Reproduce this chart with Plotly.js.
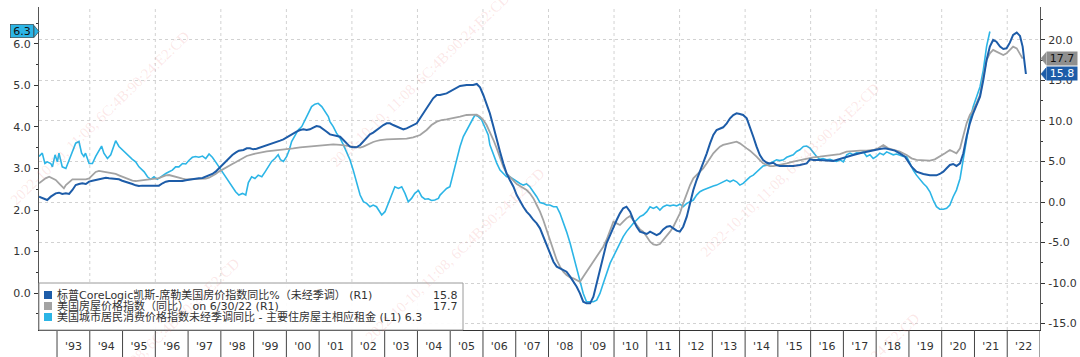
<!DOCTYPE html>
<html>
<head>
<meta charset="utf-8">
<script src="https://cdn.plot.ly/plotly-3.0.1.min.js"></script>
<style>html,body{margin:0;padding:0;background:#fff;}#chart{width:1080px;height:357px;}</style>
</head>
<body>
<div id="chart"></div>
<script>
// ---- Data ----
// S&P CoreLogic Case-Shiller YoY % (right axis)
const csX = [1992.45,1992.60,1992.70,1992.81,1992.96,1993.06,1993.16,1993.27,1993.37,1993.47,1993.57,1993.67,1993.77,1993.88,1993.98,1994.08,1994.18,1994.28,1994.38,1994.49,1994.59,1994.69,1994.79,1994.89,1994.99,1995.10,1995.20,1995.30,1995.40,1995.50,1995.60,1995.71,1995.81,1995.91,1996.01,1996.11,1996.22,1996.32,1996.42,1996.52,1996.62,1996.72,1996.83,1996.93,1997.03,1997.13,1997.23,1997.33,1997.44,1997.54,1997.64,1997.74,1997.84,1997.94,1998.05,1998.15,1998.25,1998.35,1998.45,1998.55,1998.69,1998.79,1998.89,1998.99,1999.09,1999.19,1999.30,1999.40,1999.50,1999.60,1999.70,1999.81,1999.91,2000.01,2000.11,2000.21,2000.31,2000.42,2000.52,2000.62,2000.72,2000.82,2000.92,2001.02,2001.13,2001.23,2001.33,2001.43,2001.53,2001.64,2001.74,2001.84,2001.94,2002.04,2002.14,2002.25,2002.35,2002.45,2002.55,2002.65,2002.75,2002.86,2002.96,2003.06,2003.16,2003.26,2003.37,2003.47,2003.57,2003.67,2003.77,2003.87,2003.98,2004.08,2004.18,2004.28,2004.38,2004.48,2004.59,2004.69,2004.89,2005.09,2005.30,2005.50,2005.70,2005.81,2005.91,2006.01,2006.11,2006.21,2006.32,2006.42,2006.52,2006.62,2006.72,2006.82,2006.93,2007.03,2007.13,2007.23,2007.33,2007.43,2007.54,2007.64,2007.74,2007.84,2007.94,2008.04,2008.15,2008.25,2008.35,2008.45,2008.55,2008.66,2008.76,2008.86,2008.96,2009.06,2009.16,2009.27,2009.37,2009.47,2009.57,2009.67,2009.77,2009.88,2009.98,2010.08,2010.18,2010.28,2010.38,2010.49,2010.59,2010.69,2010.79,2010.89,2011.00,2011.10,2011.20,2011.30,2011.40,2011.50,2011.61,2011.71,2011.81,2011.91,2012.01,2012.11,2012.22,2012.32,2012.42,2012.52,2012.62,2012.72,2012.83,2012.93,2013.03,2013.13,2013.23,2013.33,2013.44,2013.54,2013.64,2013.74,2013.84,2013.94,2014.05,2014.15,2014.25,2014.35,2014.45,2014.55,2014.66,2014.76,2014.86,2014.96,2015.06,2015.27,2015.47,2015.67,2015.88,2015.98,2016.08,2016.28,2016.49,2016.69,2016.89,2017.10,2017.30,2017.50,2017.71,2017.91,2018.11,2018.27,2018.42,2018.57,2018.72,2018.88,2018.98,2019.08,2019.23,2019.44,2019.64,2019.84,2019.94,2020.05,2020.15,2020.25,2020.35,2020.45,2020.56,2020.66,2020.76,2020.86,2020.96,2021.06,2021.17,2021.27,2021.37,2021.47,2021.57,2021.67,2021.78,2021.88,2021.98,2022.08,2022.18,2022.29,2022.39,2022.47,2022.52,2022.57];
const csY = [0.66,0.45,0.25,0.66,1.07,1.15,0.99,1.07,0.99,1.48,2.10,2.22,2.31,2.22,2.51,2.63,2.72,2.80,2.92,3.00,2.92,2.88,2.84,2.80,2.63,2.51,2.39,2.22,2.06,1.98,2.02,2.02,2.02,1.98,2.02,2.02,2.31,2.51,2.59,2.59,2.55,2.55,2.59,2.68,2.76,2.80,2.84,2.92,2.96,3.13,3.29,3.46,3.75,4.16,4.57,4.98,5.39,5.80,6.09,6.34,6.42,6.62,6.62,6.50,6.58,6.71,6.83,6.99,7.12,7.24,7.41,7.57,7.73,7.98,8.27,8.48,8.68,8.89,8.97,8.89,8.97,9.18,9.38,9.30,9.01,8.68,8.35,8.23,8.15,8.06,7.65,7.24,6.83,6.75,6.75,7.04,7.45,7.98,8.35,8.56,8.89,9.18,9.50,9.71,9.71,9.50,9.30,9.09,8.97,9.09,9.30,9.50,9.71,10.33,10.95,11.56,12.10,12.80,13.21,13.21,13.41,13.83,14.32,14.44,14.44,14.57,14.15,13.21,12.18,10.94,9.30,7.65,6.21,4.77,3.54,2.71,1.89,0.86,0.04,-0.58,-1.19,-1.61,-2.22,-2.64,-3.25,-4.28,-5.31,-6.34,-7.37,-7.98,-8.19,-8.40,-8.60,-9.22,-9.84,-10.46,-11.28,-12.31,-12.51,-12.51,-11.69,-10.04,-8.40,-6.75,-5.10,-4.08,-3.05,-2.22,-1.40,-0.78,-0.58,-1.19,-2.22,-3.05,-3.66,-3.79,-3.95,-3.66,-3.87,-4.08,-3.87,-3.38,-3.05,-2.96,-3.25,-3.54,-3.66,-3.05,-1.81,-0.17,1.48,2.71,3.74,4.77,6.01,7.24,8.27,8.89,9.09,9.22,9.71,10.33,10.74,10.94,10.86,10.74,10.33,9.30,8.06,6.83,5.80,5.18,4.85,4.77,4.85,4.57,4.44,4.44,4.44,4.57,4.77,5.27,5.18,5.18,5.10,5.06,5.30,5.60,5.80,6.01,6.21,6.42,6.54,6.63,6.50,6.34,6.01,5.60,4.98,4.36,3.75,3.46,3.29,3.29,3.46,3.75,4.16,4.57,4.69,4.45,4.77,6.01,8.07,9.71,10.95,11.98,13.00,15.06,17.53,19.18,20.00,19.79,19.18,18.89,18.97,19.67,20.62,20.91,20.50,19.18,17.53,15.8];

// FHFA house price index YoY % (right axis)
const fhfaX = [1992.45,1992.55,1992.65,1992.76,1992.86,1992.96,1993.06,1993.16,1993.21,1993.27,1993.37,1993.47,1993.67,1993.88,1993.98,1994.08,1994.18,1994.28,1994.38,1994.49,1994.59,1994.69,1994.79,1994.89,1994.99,1995.10,1995.20,1995.30,1995.40,1995.50,1995.60,1995.71,1995.81,1995.91,1996.01,1996.11,1996.22,1996.32,1996.42,1996.52,1996.62,1996.72,1996.83,1996.93,1997.13,1997.33,1997.44,1997.54,1997.64,1997.74,1997.84,1997.94,1998.05,1998.15,1998.25,1998.35,1998.45,1998.55,1998.69,1998.79,1998.99,1999.19,1999.40,1999.60,1999.81,2000.01,2000.21,2000.42,2000.62,2000.82,2001.02,2001.23,2001.43,2001.64,2001.84,2002.04,2002.25,2002.35,2002.45,2002.55,2002.65,2002.75,2002.86,2003.06,2003.26,2003.47,2003.67,2003.87,2004.08,2004.28,2004.43,2004.59,2004.74,2004.89,2005.09,2005.30,2005.50,2005.70,2005.81,2005.91,2006.01,2006.11,2006.21,2006.32,2006.42,2006.52,2006.62,2006.72,2006.82,2006.93,2007.03,2007.13,2007.23,2007.33,2007.43,2007.54,2007.64,2007.74,2007.84,2007.94,2008.04,2008.15,2008.25,2008.35,2008.45,2008.55,2008.66,2008.76,2008.86,2008.96,2009.06,2009.16,2009.27,2009.37,2009.47,2009.57,2009.67,2009.77,2009.88,2009.98,2010.08,2010.18,2010.28,2010.38,2010.49,2010.59,2010.69,2010.79,2010.89,2011.00,2011.10,2011.20,2011.30,2011.40,2011.50,2011.61,2011.71,2011.81,2011.91,2012.01,2012.11,2012.22,2012.32,2012.42,2012.52,2012.62,2012.72,2012.83,2012.93,2013.03,2013.13,2013.23,2013.33,2013.44,2013.54,2013.64,2013.74,2013.84,2013.94,2014.05,2014.15,2014.25,2014.35,2014.45,2014.55,2014.66,2014.76,2014.86,2015.06,2015.27,2015.47,2015.67,2015.88,2016.08,2016.28,2016.49,2016.69,2016.89,2017.10,2017.30,2017.50,2017.71,2017.91,2018.06,2018.22,2018.37,2018.52,2018.72,2018.93,2019.08,2019.23,2019.44,2019.64,2019.79,2019.94,2020.10,2020.25,2020.35,2020.45,2020.56,2020.66,2020.76,2020.86,2020.96,2021.06,2021.17,2021.27,2021.37,2021.47,2021.57,2021.67,2021.78,2021.88,2021.98,2022.08,2022.18,2022.29,2022.39,2022.47];
const fhfaY = [2.31,2.63,2.92,3.13,2.92,2.72,2.31,1.89,1.69,2.10,2.51,2.80,2.80,2.80,2.92,3.33,3.71,3.83,3.75,3.71,3.62,3.54,3.46,3.29,3.13,2.96,2.80,2.63,2.59,2.63,2.72,2.80,2.84,2.88,2.92,2.96,3.13,3.29,3.33,3.21,3.05,2.92,2.88,2.80,2.80,2.80,2.84,2.88,3.00,3.21,3.46,3.75,4.03,4.28,4.49,4.69,4.90,5.10,5.39,5.68,5.92,6.09,6.25,6.34,6.42,6.50,6.62,6.75,6.83,6.91,7.04,7.12,7.12,7.04,6.95,6.83,6.71,6.83,7.04,7.24,7.41,7.53,7.65,7.73,7.73,7.78,7.82,7.98,8.27,8.89,9.50,9.92,10.12,10.20,10.33,10.53,10.74,10.82,10.78,10.53,10.12,9.50,8.68,7.65,6.62,5.39,4.36,3.54,3.04,2.63,2.22,1.97,1.69,1.48,1.07,0.45,-0.37,-1.19,-2.22,-3.46,-4.69,-5.93,-7.16,-7.98,-8.60,-9.01,-9.30,-9.43,-9.63,-9.84,-9.22,-8.60,-7.98,-7.37,-6.75,-6.13,-5.52,-4.69,-3.46,-2.43,-2.64,-2.84,-2.43,-2.02,-1.73,-2.22,-2.84,-3.38,-3.66,-4.28,-4.90,-5.23,-5.31,-5.19,-4.69,-4.28,-3.66,-3.05,-2.22,-1.40,-0.17,1.07,2.10,2.92,3.33,3.74,4.15,4.77,5.39,6.01,6.42,6.83,7.04,7.16,7.24,7.32,7.45,7.24,6.91,6.62,6.34,6.01,5.59,5.18,4.77,4.57,4.44,4.44,4.57,4.77,4.98,5.18,5.39,5.51,5.59,5.68,5.80,5.92,6.21,6.30,6.34,6.34,6.42,6.63,7.04,6.63,6.42,6.21,5.80,5.39,5.19,5.10,5.10,5.27,5.60,6.01,6.42,6.21,6.01,6.63,8.07,9.71,10.74,11.36,12.18,13.21,15.47,17.53,18.35,18.77,18.56,18.35,18.15,18.35,18.77,19.18,18.97,18.35,17.7];

// CPI-U owners' equivalent rent YoY %, not seasonally adjusted (left axis)
const oerX = [1992.45,1992.55,1992.63,1992.70,1992.81,1992.86,1992.94,1993.01,1993.06,1993.16,1993.27,1993.37,1993.47,1993.57,1993.67,1993.75,1993.82,1993.87,1993.98,1994.08,1994.18,1994.28,1994.36,1994.43,1994.54,1994.64,1994.71,1994.79,1994.89,1994.99,1995.10,1995.20,1995.30,1995.40,1995.50,1995.66,1995.76,1995.86,1995.96,1996.06,1996.16,1996.32,1996.42,1996.52,1996.62,1996.72,1996.83,1996.93,1997.03,1997.13,1997.23,1997.33,1997.44,1997.54,1997.64,1997.74,1997.84,1997.94,1998.05,1998.15,1998.25,1998.35,1998.45,1998.55,1998.66,1998.76,1998.84,1998.94,1999.04,1999.14,1999.25,1999.35,1999.45,1999.55,1999.65,1999.75,1999.82,1999.91,2000.01,2000.09,2000.16,2000.26,2000.36,2000.47,2000.57,2000.67,2000.77,2000.87,2000.97,2001.08,2001.18,2001.28,2001.33,2001.43,2001.53,2001.64,2001.74,2001.84,2001.94,2002.04,2002.14,2002.25,2002.35,2002.45,2002.55,2002.65,2002.75,2002.86,2002.91,2003.01,2003.11,2003.21,2003.31,2003.42,2003.52,2003.62,2003.72,2003.82,2003.92,2004.03,2004.13,2004.23,2004.33,2004.43,2004.53,2004.64,2004.69,2004.79,2004.89,2004.99,2005.09,2005.20,2005.30,2005.40,2005.50,2005.60,2005.70,2005.76,2005.86,2005.96,2006.06,2006.16,2006.21,2006.32,2006.42,2006.52,2006.62,2006.72,2006.82,2006.93,2007.03,2007.13,2007.23,2007.33,2007.43,2007.54,2007.64,2007.74,2007.84,2007.94,2008.04,2008.15,2008.25,2008.35,2008.45,2008.55,2008.66,2008.76,2008.86,2008.96,2009.06,2009.16,2009.27,2009.37,2009.47,2009.57,2009.67,2009.77,2009.88,2009.98,2010.08,2010.18,2010.28,2010.38,2010.49,2010.59,2010.69,2010.79,2010.89,2011.00,2011.10,2011.20,2011.30,2011.40,2011.50,2011.61,2011.71,2011.81,2011.91,2012.01,2012.11,2012.22,2012.32,2012.42,2012.52,2012.62,2012.72,2012.83,2012.93,2013.03,2013.13,2013.23,2013.33,2013.44,2013.54,2013.64,2013.74,2013.84,2013.94,2014.05,2014.15,2014.25,2014.35,2014.45,2014.55,2014.66,2014.76,2014.86,2014.96,2015.06,2015.17,2015.27,2015.37,2015.47,2015.57,2015.67,2015.78,2015.88,2015.98,2016.08,2016.18,2016.28,2016.38,2016.49,2016.59,2016.69,2016.79,2016.89,2017.00,2017.10,2017.20,2017.30,2017.40,2017.50,2017.61,2017.71,2017.81,2017.91,2018.01,2018.11,2018.22,2018.32,2018.42,2018.52,2018.62,2018.72,2018.83,2018.93,2019.03,2019.13,2019.23,2019.34,2019.44,2019.54,2019.64,2019.74,2019.84,2019.94,2020.05,2020.15,2020.25,2020.35,2020.45,2020.56,2020.66,2020.76,2020.86,2020.96,2021.06,2021.17,2021.27,2021.37,2021.47];
const oerY = [3.29,3.37,3.12,3.16,3.12,3.04,3.33,3.16,3.37,3.04,3.00,3.20,3.41,3.61,3.65,3.37,3.29,3.37,3.12,3.12,3.29,3.45,3.54,3.37,3.24,3.33,3.49,3.67,3.53,3.45,3.37,3.29,3.22,3.16,3.04,2.92,2.80,2.74,2.80,2.74,2.80,2.88,2.92,2.96,3.04,3.04,3.12,3.11,3.20,3.27,3.29,3.27,3.30,3.24,3.35,3.27,3.16,3.04,2.92,2.80,2.68,2.56,2.44,2.36,2.40,2.36,2.66,2.80,2.76,2.84,2.80,2.92,3.03,3.17,3.24,3.33,3.21,3.17,3.29,3.45,3.65,3.81,3.93,4.01,4.17,4.37,4.49,4.55,4.57,4.49,4.37,4.25,4.13,4.01,3.85,3.73,3.57,3.41,3.21,2.96,2.64,2.36,2.20,2.16,2.08,2.12,2.08,1.96,1.88,1.96,2.16,2.40,2.56,2.52,2.56,2.40,2.20,2.28,2.40,2.47,2.32,2.26,2.27,2.23,2.24,2.28,2.36,2.44,2.52,2.56,2.88,3.21,3.53,3.77,3.93,4.05,4.21,4.29,4.25,4.17,4.01,3.81,3.57,3.33,3.13,2.96,2.88,2.80,2.80,2.74,2.68,2.64,2.60,2.63,2.56,2.44,2.32,2.18,2.16,2.12,2.12,2.08,2.08,1.92,1.72,1.48,1.20,0.88,0.59,0.31,-0.01,-0.21,-0.21,-0.21,-0.17,-0.01,0.23,0.47,0.72,0.88,1.04,1.20,1.36,1.48,1.60,1.68,1.76,1.84,1.88,1.96,2.08,2.04,2.08,2.00,2.08,2.12,2.10,2.12,2.10,2.14,2.08,2.16,2.20,2.24,2.36,2.44,2.48,2.52,2.56,2.58,2.60,2.64,2.68,2.72,2.68,2.72,2.68,2.60,2.64,2.72,2.80,2.84,2.92,3.00,3.06,3.08,3.13,3.17,3.21,3.19,3.21,3.27,3.30,3.33,3.41,3.45,3.53,3.54,3.49,3.38,3.29,3.22,3.24,3.21,3.22,3.19,3.17,3.21,3.16,3.33,3.37,3.33,3.38,3.37,3.40,3.29,3.33,3.24,3.29,3.37,3.33,3.40,3.37,3.33,3.35,3.33,3.29,3.29,3.12,2.96,2.84,2.72,2.64,2.56,2.44,2.24,2.08,2.02,2.02,2.04,2.12,2.32,2.48,2.76,3.20,3.69,4.17,4.49,4.73,4.97,5.37,5.94,6.30];

const yearLabels = ["'93","'94","'95","'96","'97","'98","'99","'00","'01","'02","'03","'04","'05","'06","'07","'08","'09","'10","'11","'12","'13","'14","'15","'16","'17","'18","'19","'20","'21","'22"];
const leftTicks = [0, 1, 2, 3, 4, 5, 6];
const rightTicks = [-15, -10, -5, 0, 5, 10, 15, 20];
const seriesNames = [
  "标普CoreLogic凯斯-席勒美国房价指数同比%（未经季调） (R1)",
  "美国房屋价格指数（同比） on 6/30/22 (R1)",
  "美国城市居民消费价格指数未经季调同比 - 主要住房屋主相应租金 (L1) 6.3"
];
const legendValues = ["15.8", "17.7"];
const watermarkText = "2022-10-10, 11:08, 6C:4B:90:24:E2:CD";

// ---- Styling ----
const C_BLUE = '#1d5ca8', C_GRAY = '#a3a3a3', C_CYAN = '#2cb5e6';
const FONT = 'DejaVu Sans, Noto Sans CJK SC, sans-serif';
const XR = [1992.45, 2023.0], YL = [-0.89, 6.89], YR = [-15.8, 24.07];
const W = 1080, H = 357, ML = 39, MR = 40, MT = 7, MB = 27;
const PW = W - ML - MR, PH = H - MT - MB;
const pxX = px => (px - ML) / PW;           // pixel -> paper x
const pxY = py => (H - MB - py) / PH;        // pixel -> paper y
const yLP = v => (v - YL[0]) / (YL[1] - YL[0]);
const yRP = v => (v - YR[0]) / (YR[1] - YR[0]);
const fmt = v => v.toFixed(1);              // plain hyphen for negatives

const traces = [
  {x: fhfaX, y: fhfaY, yaxis: 'y2', mode: 'lines', line: {color: C_GRAY, width: 1.8}, hoverinfo: 'skip'},
  {x: csX, y: csY, yaxis: 'y2', mode: 'lines', line: {color: C_BLUE, width: 2}, hoverinfo: 'skip'},
  {x: oerX, y: oerY, yaxis: 'y', mode: 'lines', line: {color: C_CYAN, width: 1.6}, hoverinfo: 'skip'}
];

const shapes = [];
for (let yr = 1994; yr <= 2022; yr += 2) {
  shapes.push({type: 'line', xref: 'x', yref: 'paper', x0: yr, x1: yr, y0: 0, y1: 1,
    line: {color: '#d2d2d2', width: 1, dash: 'dot'}, layer: 'below'});
}
for (let yr = 1993; yr <= 2023; yr++) {
  shapes.push({type: 'line', xref: 'x', yref: 'paper', x0: yr, x1: yr, y0: 0, y1: -27 / PH,
    line: {color: '#444', width: 1}});
}
shapes.push({type: 'rect', xref: 'paper', yref: 'paper', x0: 0, x1: pxX(463), y0: 0, y1: pxY(283),
  fillcolor: 'rgba(255,255,255,0.92)', line: {color: '#9a9a9a', width: 1}});
const sqY = [295, 306, 317], sqC = [C_BLUE, C_GRAY, C_CYAN];
sqY.forEach((py, i) => shapes.push({type: 'rect', xref: 'paper', yref: 'paper',
  x0: pxX(44), x1: pxX(52), y0: pxY(py + 4), y1: pxY(py - 4), fillcolor: sqC[i], line: {width: 0}}));
const hL = 6 / PH;
const lv = oerY[oerY.length - 1];
shapes.push({type: 'path', xref: 'paper', yref: 'paper',
  path: `M ${pxX(34)},${yLP(lv) + hL} L ${pxX(39)},${yLP(lv)} L ${pxX(34)},${yLP(lv) - hL} Z`,
  fillcolor: C_CYAN, line: {color: '#333', width: 0.6}});
const rv1 = fhfaY[fhfaY.length - 1], rv2 = csY[csY.length - 1];
[[rv1, '#8f8f8f'], [rv2, C_BLUE]].forEach(([v, c]) => shapes.push({type: 'path', xref: 'paper', yref: 'paper',
  path: `M ${pxX(1046)},${yRP(v) + hL} L ${pxX(1041)},${yRP(v)} L ${pxX(1046)},${yRP(v) - hL} Z`,
  fillcolor: c, line: {color: c, width: 0.6}}));

const annotations = [];
[[100, 118], [420, 80], [455, 255], [790, 170], [150, 345], [830, 400]].forEach(([px, py]) => {
  annotations.push({xref: 'paper', yref: 'paper', x: pxX(px), y: pxY(py), xanchor: 'center', yanchor: 'middle',
    text: watermarkText, showarrow: false, textangle: -44,
    font: {family: 'Liberation Serif, serif', size: 15, color: 'rgba(235,110,110,0.16)'}});
});
seriesNames.forEach((t, i) => annotations.push({xref: 'paper', yref: 'paper', x: pxX(55), y: pxY(sqY[i]),
  xanchor: 'left', yanchor: 'middle', text: t, showarrow: false,
  font: {family: FONT, size: 11, color: '#333'}}));
legendValues.forEach((t, i) => annotations.push({xref: 'paper', yref: 'paper', x: pxX(460), y: pxY(sqY[i]),
  xanchor: 'right', yanchor: 'middle', text: t, showarrow: false,
  font: {family: FONT, size: 11, color: '#333'}}));
annotations.push({xref: 'paper', yref: 'paper', x: pxX(34), y: yLP(lv), xanchor: 'right', yanchor: 'middle',
  text: fmt(lv), showarrow: false, bgcolor: C_CYAN, bordercolor: '#333', borderwidth: 0.6, borderpad: 1,
  width: 21, height: 11, font: {family: FONT, size: 11, color: '#111'}});
annotations.push({xref: 'paper', yref: 'paper', x: pxX(1046), y: yRP(rv1), xanchor: 'left', yanchor: 'middle',
  text: fmt(rv1), showarrow: false, bgcolor: '#8f8f8f', borderpad: 1,
  width: 28, height: 11, font: {family: FONT, size: 11, color: '#111'}});
annotations.push({xref: 'paper', yref: 'paper', x: pxX(1046), y: yRP(rv2), xanchor: 'left', yanchor: 'middle',
  text: fmt(rv2), showarrow: false, bgcolor: C_BLUE, borderpad: 1,
  width: 28, height: 11, font: {family: FONT, size: 11, color: '#fff'}});

const tickFont = {family: FONT, size: 11, color: '#333'};
const layout = {
  width: W, height: H,
  margin: {l: ML, r: MR, t: MT, b: MB, pad: 0},
  paper_bgcolor: '#fff', plot_bgcolor: '#fff',
  showlegend: false,
  xaxis: {range: XR, tickvals: yearLabels.map((_, i) => 1993.5 + i), ticktext: yearLabels,
    ticks: '', showgrid: false, zeroline: false, showline: true, linecolor: '#333', linewidth: 1,
    tickfont: tickFont, ticklabelstandoff: 6, fixedrange: true},
  yaxis: {range: YL, tickvals: leftTicks, ticktext: leftTicks.map(fmt), ticks: 'outside', ticklen: 4,
    tickcolor: '#333', showline: true, linecolor: '#555', linewidth: 1, showgrid: false, zeroline: false,
    minor: {dtick: 0.5, tick0: 0, ticks: 'outside', ticklen: 2, tickcolor: '#333', showgrid: false},
    tickfont: tickFont, ticklabelstandoff: 1, fixedrange: true},
  yaxis2: {range: YR, overlaying: 'y', side: 'right', tickvals: rightTicks, ticktext: rightTicks.map(fmt),
    ticks: 'outside', ticklen: 4, tickcolor: '#333', showline: true, linecolor: '#555',
    linewidth: 1, showgrid: true, gridcolor: '#d2d2d2', griddash: 'dot', zeroline: false,
    minor: {dtick: 2.5, tick0: 0, ticks: 'outside', ticklen: 2, tickcolor: '#333', showgrid: false},
    tickfont: tickFont, ticklabelstandoff: 1, fixedrange: true},
  shapes: shapes,
  annotations: annotations
};
Plotly.newPlot('chart', traces, layout, {displayModeBar: false, staticPlot: true});
</script>
</body>
</html>
